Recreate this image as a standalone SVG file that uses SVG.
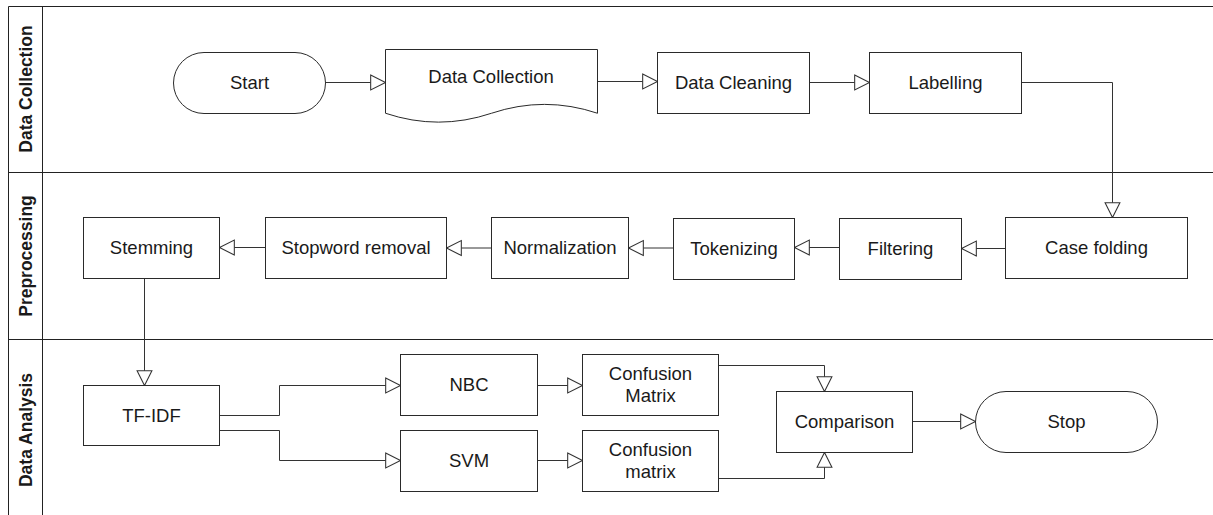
<svg xmlns="http://www.w3.org/2000/svg" width="1213" height="515" viewBox="0 0 1213 515">
  <defs>
    <style>
      .lane { fill: none; stroke: #222; stroke-width: 1; }
      .node { fill: #fff; stroke: #2a2a2a; stroke-width: 1; }
      .edge { fill: none; stroke: #333; stroke-width: 1; }
      .lbl { font-family: "Liberation Sans", Arial, sans-serif; font-size: 18.5px; fill: #1a1a1a; text-anchor: middle; }
      .lanelbl { font-family: "Liberation Sans", Arial, sans-serif; font-size: 17.5px; font-weight: bold; fill: #1a1a1a; text-anchor: middle; }
    </style>
    <marker id="open-tri" markerUnits="userSpaceOnUse" markerWidth="18" markerHeight="18" viewBox="-1 -1 17 16" refX="14" refY="7" orient="auto" overflow="visible">
      <path d="M0,0 L14,7 L0,14 Z" fill="#fff" stroke="#333" stroke-width="1"/>
    </marker>
  </defs>

  <rect width="1213" height="515" fill="#fff"/>

  <!-- swimlane pool -->
  <g id="pool">
    <path class="lane" d="M1213,6.5 H8.5 V515 M42.5,6.5 V515 M8.5,172.5 H1213 M8.5,339.5 H1213"/>
    <text class="lanelbl" transform="translate(32,89) rotate(-90)">Data Collection</text>
    <text class="lanelbl" transform="translate(32,256) rotate(-90)">Preprocessing</text>
    <text class="lanelbl" transform="translate(32,430) rotate(-90)">Data Analysis</text>
  </g>

  <!-- connectors -->
  <g id="connectors">
    <path class="edge" d="M325.5,82.5 H385.5" marker-end="url(#open-tri)"/>
    <path class="edge" d="M597.5,81.5 H657.5" marker-end="url(#open-tri)"/>
    <path class="edge" d="M809.5,82.5 H869.5" marker-end="url(#open-tri)"/>
    <path class="edge" d="M1021.5,82.5 H1112.5 V217.5" marker-end="url(#open-tri)"/>
    <path class="edge" d="M1005.5,248.5 H961.5" marker-end="url(#open-tri)"/>
    <path class="edge" d="M839.5,247.5 H794.5" marker-end="url(#open-tri)"/>
    <path class="edge" d="M673.5,248 H628.5" marker-end="url(#open-tri)"/>
    <path class="edge" d="M491.5,248 H446.5" marker-end="url(#open-tri)"/>
    <path class="edge" d="M265.5,247.5 H219.5" marker-end="url(#open-tri)"/>
    <path class="edge" d="M144.5,278.5 V385.5" marker-end="url(#open-tri)"/>
    <path class="edge" d="M219.5,415.5 H279.5 V385.5 H400.5" marker-end="url(#open-tri)"/>
    <path class="edge" d="M219.5,430.5 H279.5 V460.5 H400.5" marker-end="url(#open-tri)"/>
    <path class="edge" d="M537.5,385.5 H582.5" marker-end="url(#open-tri)"/>
    <path class="edge" d="M537.5,460.5 H582.5" marker-end="url(#open-tri)"/>
    <path class="edge" d="M718.5,365.5 H824.5 V391.5" marker-end="url(#open-tri)"/>
    <path class="edge" d="M718.5,478.5 H824.5 V452.5" marker-end="url(#open-tri)"/>
    <path class="edge" d="M912.5,421.5 H975.5" marker-end="url(#open-tri)"/>
  </g>

  <!-- Data Collection lane -->
  <g id="start">
    <rect class="node" x="173.5" y="52.5" width="152" height="61" rx="30.5"/>
    <text class="lbl" x="249.5" y="89">Start</text>
  </g>
  <g id="data-collection">
    <path class="node" d="M385.5,49.5 H597.5 V113.25 Q544.5,95.5 491.5,113.25 Q438.5,131 385.5,113.25 Z"/>
    <text class="lbl" x="491" y="83">Data Collection</text>
  </g>
  <g id="data-cleaning">
    <rect class="node" x="657.5" y="52.5" width="152" height="61"/>
    <text class="lbl" x="733.5" y="89">Data Cleaning</text>
  </g>
  <g id="labelling">
    <rect class="node" x="869.5" y="52.5" width="152" height="61"/>
    <text class="lbl" x="945.5" y="89">Labelling</text>
  </g>

  <!-- Preprocessing lane -->
  <g id="case-folding">
    <rect class="node" x="1005.5" y="217.5" width="182" height="61"/>
    <text class="lbl" x="1096.5" y="254">Case folding</text>
  </g>
  <g id="filtering">
    <rect class="node" x="839.5" y="218.5" width="122" height="61"/>
    <text class="lbl" x="900.5" y="255">Filtering</text>
  </g>
  <g id="tokenizing">
    <rect class="node" x="673.5" y="218.5" width="121" height="61"/>
    <text class="lbl" x="734" y="255">Tokenizing</text>
  </g>
  <g id="normalization">
    <rect class="node" x="491.5" y="217.5" width="137" height="61"/>
    <text class="lbl" x="560" y="254">Normalization</text>
  </g>
  <g id="stopword-removal">
    <rect class="node" x="265.5" y="217.5" width="181" height="61"/>
    <text class="lbl" x="356" y="254">Stopword removal</text>
  </g>
  <g id="stemming">
    <rect class="node" x="83.5" y="217.5" width="136" height="61"/>
    <text class="lbl" x="151.5" y="254">Stemming</text>
  </g>

  <!-- Data Analysis lane -->
  <g id="tf-idf">
    <rect class="node" x="83.5" y="385.5" width="136" height="60"/>
    <text class="lbl" x="151.5" y="422">TF-IDF</text>
  </g>
  <g id="nbc">
    <rect class="node" x="400.5" y="354.5" width="137" height="61"/>
    <text class="lbl" x="469" y="391">NBC</text>
  </g>
  <g id="svm">
    <rect class="node" x="400.5" y="430.5" width="137" height="61"/>
    <text class="lbl" x="469" y="467">SVM</text>
  </g>
  <g id="confusion-matrix-nbc">
    <rect class="node" x="582.5" y="354.5" width="136" height="61"/>
    <text class="lbl" x="650.5" y="380">Confusion</text>
    <text class="lbl" x="650.5" y="402">Matrix</text>
  </g>
  <g id="confusion-matrix-svm">
    <rect class="node" x="582.5" y="430.5" width="136" height="61"/>
    <text class="lbl" x="650.5" y="456">Confusion</text>
    <text class="lbl" x="650.5" y="478">matrix</text>
  </g>
  <g id="comparison">
    <rect class="node" x="776.5" y="391.5" width="136" height="61"/>
    <text class="lbl" x="844.5" y="428">Comparison</text>
  </g>
  <g id="stop">
    <rect class="node" x="975.5" y="391.5" width="182" height="61" rx="30.5"/>
    <text class="lbl" x="1066.5" y="428">Stop</text>
  </g>
</svg>
